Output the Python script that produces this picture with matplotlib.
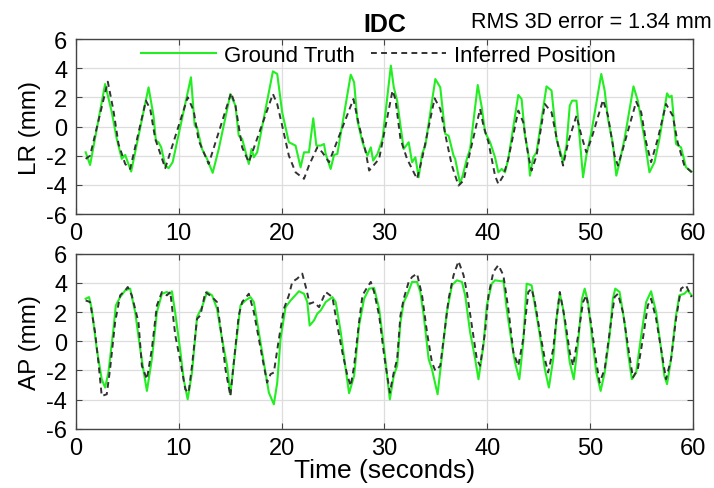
import matplotlib
matplotlib.use("Agg")
import matplotlib.pyplot as plt
import numpy as np

plt.rcParams['font.family'] = ['Liberation Sans', 'DejaVu Sans']
plt.rcParams['axes.unicode_minus'] = False

# LR, ground truth (s, mm)
lr_gt_t = [0.97, 1.40, 2.86, 3.51, 3.99, 4.48, 4.81, 5.06, 5.39, 7.08, 7.56, 7.79, 8.05, 8.31, 8.70, 9.03, 9.42,
           11.20, 11.56, 11.79, 12.27, 12.76, 13.31, 13.90, 15.03, 15.52, 15.84, 16.17, 16.82, 17.08, 17.31, 17.63,
           19.16, 19.58, 20.06, 20.71, 21.04, 21.36, 21.85, 22.18, 22.66, 23.08, 23.38, 23.80, 24.12, 24.29, 24.77,
           25.10, 25.42, 26.72, 27.05, 27.37, 27.86, 28.34, 28.67, 28.90, 29.32, 29.81, 30.62, 30.90, 31.23, 31.55,
           31.87, 32.35, 32.68, 33.00, 33.32, 33.65, 33.97, 34.94, 35.42, 35.90, 36.23, 36.71, 36.87, 37.35, 37.68,
           38.00, 38.32, 39.06, 39.45, 39.77, 40.26, 40.74, 41.06, 41.39, 41.71, 42.03, 43.00, 43.32, 43.65, 43.97,
           44.13, 44.45, 44.77, 45.74, 46.23, 46.71, 47.19, 47.35, 47.68, 48.00, 48.23, 48.65, 48.97, 49.29, 49.61,
           50.10, 51.06, 51.39, 51.71, 52.19, 52.52, 52.84, 53.32, 54.19, 54.61, 55.26, 55.74, 56.23, 56.71, 57.45,
           57.68, 57.90, 58.32, 58.81, 59.29, 59.84]
lr_gt = [-1.76, -2.63, 2.92, 0.98, -0.84, -2.21, -1.94, -2.44, -3.08, 2.69, 0.75, -0.96, -1.07, -1.42, -2.67, -2.85, -2.44,
         3.38, 0.07, -0.05, -1.53, -2.21, -3.17, -1.53, 2.24, 1.44, -0.62, -0.84, -2.56, -1.53, -2.10, -1.76,
         3.79, 3.61, 0.98, -1.07, -1.19, -1.30, -2.79, -1.76, -1.76, 0.57, -1.30, -1.30, -1.19, -1.87, -2.90,
         -1.94, -1.87, 3.56, 3.04, 0.41, -1.07, -1.99, -1.42, -2.33, -1.87, -0.84, 4.18, 2.71, 1.78, 0.07,
         -1.53, -1.07, -2.44, -2.10, -3.47, -1.87, -1.30, 3.26, 2.69, -0.50, -0.62, -1.99, -2.21, -3.93, -3.13,
         -2.21, -1.53, 2.85, 1.32, -0.39, -1.07, -2.10, -3.13, -2.90, -3.13, -2.21, 2.17, 1.89, -0.62, -1.87,
         -3.36, -2.10, -1.76, 2.76, 2.47, -0.84, -1.99, -2.44, -1.30, 1.44, 1.78, 1.78, -0.84, -3.47, -1.99,
         -0.39, 3.61, 2.47, 0.53, -1.19, -3.36, -2.44, -0.84, 2.76, 1.78, -0.84, -3.13, -2.44, -0.84, 2.28,
         2.01, 2.12, -1.19, -1.42, -2.79, -3.08]

# LR, inferred position
lr_inf_t = [0.97, 1.40, 3.12, 3.67, 4.16, 4.81, 5.29, 6.82, 7.24, 7.73, 8.70, 10.88, 11.46, 11.95, 12.92, 15.10,
            15.52, 16.17, 16.82, 19.16, 19.58, 20.06, 20.71, 21.36, 22.18, 22.66, 23.47, 23.96, 24.61, 26.98, 27.53,
            28.18, 28.51, 29.48, 30.78, 31.06, 31.55, 32.19, 33.16, 33.65, 34.87, 35.42, 36.06, 36.55, 37.19, 37.68,
            38.16, 39.29, 39.61, 40.10, 40.74, 41.06, 41.55, 42.03, 43.00, 43.48, 43.97, 44.29, 44.77, 45.58, 46.23,
            46.87, 47.35, 47.84, 48.65, 49.13, 49.61, 50.10, 51.23, 51.71, 52.35, 52.68, 53.16, 54.45, 54.94, 55.42,
            55.90, 56.55, 57.35, 58.00, 58.48, 59.13, 59.84]
lr_inf = [-2.21, -1.99, 3.08, 1.10, -1.19, -2.56, -2.90, 1.78, 1.21, -0.84, -2.85, 2.01, 1.10, -0.96, -2.56, 2.31,
          1.44, -1.42, -2.44, 2.24, 1.55, 0.07, -1.99, -3.13, -3.58, -2.67, -1.42, -1.76, -2.44, 1.89, 0.07,
          -1.76, -3.01, -2.21, 2.47, 1.89, -0.84, -2.21, -3.58, -2.21, 1.94, 1.21, -1.07, -2.67, -4.04, -3.70,
          -2.21, 1.21, 0.07, -1.07, -3.36, -3.93, -3.36, -2.21, 1.10, 0.30, -1.99, -3.01, -1.99, 1.55, 0.98,
          -1.30, -2.67, -1.07, 0.75, -0.62, -1.76, -0.84, 1.83, 0.75, -1.99, -2.67, -1.53, 1.71, 0.98, -1.07,
          -2.44, -0.84, 1.55, 0.75, -1.07, -2.67, -3.13]

# AP, ground truth
ap_gt_t = [0.97, 1.30, 1.56, 2.05, 2.53, 2.86, 3.18, 3.67, 3.90, 4.32, 4.81, 5.29, 5.78, 6.27, 6.59, 6.92, 7.40, 7.89,
           8.38, 8.86, 9.19, 9.35, 9.68, 10.16, 10.49, 10.88, 11.30, 11.79, 12.27, 12.76, 13.25, 13.73, 14.22, 14.71,
           15.03, 15.52, 16.01, 16.49, 16.98, 17.31, 17.63, 18.12, 18.44, 18.77, 19.25, 19.58, 19.90, 20.39, 20.88,
           21.69, 22.18, 22.50, 22.73, 23.15, 23.47, 23.80, 24.29, 24.94, 25.26, 25.75, 26.23, 26.56, 27.05, 27.53,
           28.02, 28.51, 28.99, 29.48, 29.97, 30.29, 30.52, 30.90, 31.23, 31.55, 31.87, 32.19, 32.68, 33.16, 33.48,
           33.81, 34.29, 34.61, 35.16, 35.58, 36.06, 36.55, 37.03, 37.52, 37.84, 38.32, 38.81, 39.13, 39.61, 39.94,
           40.42, 40.74, 41.39, 41.55, 41.87, 42.35, 42.68, 43.10, 43.48, 43.81, 44.29, 44.61, 45.10, 45.58, 45.97,
           46.39, 46.71, 47.03, 47.35, 47.68, 48.00, 48.39, 48.81, 49.19, 49.45, 49.77, 50.26, 50.58, 51.00, 51.39,
           51.87, 52.19, 52.42, 52.84, 53.32, 53.65, 54.03, 54.45, 54.94, 55.42, 55.90, 56.39, 56.87, 57.19, 57.45,
           57.84, 58.32, 58.65, 59.13, 59.45, 59.84]
ap_gt = [2.92, 3.03, 2.23, -0.53, -2.60, -3.17, -2.14, 0.85, 2.46, 3.03, 3.49, 3.61, 2.00, -0.53, -2.02, -3.40, -1.22, 2.00,
         3.26, 3.38, 3.26, 3.43, 1.89, -0.64, -2.60, -3.98, -2.14, 1.66, 2.34, 3.38, 3.15, 2.23, 0.16, -1.68,
         -3.63, -0.53, 2.46, 2.80, 3.03, 2.69, 1.31, -0.76, -2.14, -3.52, -4.32, -2.83, 0.16, 2.34, 2.80,
         3.43, 3.26, 2.69, 1.08, 1.43, 1.89, 2.11, 2.69, 3.03, 2.69, 0.62, -1.91, -3.56, -2.37, 1.08,
         2.92, 3.61, 3.66, 2.23, -0.53, -2.60, -3.98, -2.37, -1.68, 1.31, 2.69, 3.15, 4.07, 4.07, 3.38,
         1.77, -1.22, -1.91, -3.63, -0.99, 2.00, 3.84, 4.18, 4.07, 3.15, 0.62, -1.22, -2.60, -0.30, 2.46,
         3.95, 4.18, 4.11, 4.18, 2.23, -0.07, -1.45, -2.60, -0.07, 3.95, 3.84, 2.46, 0.39, -1.91, -3.17,
         -1.22, 1.54, 3.26, 2.23, 0.39, -1.45, -2.60, -0.07, 2.92, 3.61, 2.69, -0.30, -2.14, -3.40, -2.14,
         0.39, 2.92, 3.61, 3.38, 1.31, -0.76, -2.60, -2.14, 0.39, 2.69, 3.43, 2.00, -0.53, -2.37, -2.94,
         -1.22, 1.77, 3.15, 3.26, 3.49, 3.15]

# AP, inferred position
ap_inf_t = [0.97, 1.40, 1.88, 2.21, 2.53, 3.02, 3.34, 3.83, 4.32, 4.81, 5.06, 5.45, 6.10, 6.43, 6.92, 7.40, 7.89, 8.38,
            8.86, 9.19, 9.68, 10.16, 10.65, 10.97, 11.30, 11.79, 12.11, 12.60, 13.25, 13.73, 14.22, 14.55, 15.03,
            15.36, 15.84, 16.17, 16.82, 17.31, 17.79, 18.28, 18.60, 18.93, 19.25, 19.74, 20.23, 20.71, 21.04, 21.53,
            22.01, 22.40, 22.73, 23.15, 23.64, 24.29, 24.94, 25.42, 25.91, 26.40, 26.72, 27.05, 27.53, 27.86, 28.34,
            28.67, 28.99, 29.48, 29.97, 30.52, 30.90, 31.23, 31.55, 31.87, 32.35, 32.68, 33.16, 33.65, 34.13, 34.61,
            34.94, 35.42, 35.74, 36.23, 36.71, 37.19, 37.68, 38.00, 38.48, 38.97, 39.29, 39.77, 40.10, 40.58, 41.06,
            41.55, 42.03, 42.52, 43.00, 43.48, 43.97, 44.29, 44.61, 45.10, 45.58, 45.90, 46.39, 46.71, 47.03, 47.52,
            48.00, 48.32, 48.81, 49.29, 49.61, 50.10, 50.58, 50.90, 51.39, 51.87, 52.35, 52.68, 53.16, 53.65, 54.13,
            54.61, 55.10, 55.58, 55.90, 56.39, 56.87, 57.35, 57.84, 58.32, 58.81, 59.29, 59.84]
ap_inf = [2.80, 2.69, 0.62, -1.45, -3.75, -3.63, -1.91, 1.31, 3.15, 3.49, 3.72, 3.15, 1.31, -1.68, -2.60, -0.53, 2.46, 3.38,
          3.15, 3.38, 0.39, -1.33, -3.29, -3.52, -1.68, 1.54, 1.77, 3.38, 3.03, 2.69, 0.16, -1.91, -3.75,
          -1.45, 1.77, 2.69, 3.26, 2.00, 0.16, -1.68, -2.83, -2.25, -2.14, 0.16, 2.23, 3.15, 4.07, 4.30,
          4.64, 3.61, 2.57, 2.69, 2.34, 3.38, 3.03, 1.08, -0.76, -2.37, -3.06, -1.68, 1.31, 3.15, 3.72,
          4.07, 3.38, 1.77, -0.99, -3.52, -2.14, -1.22, 1.77, 2.92, 4.07, 4.41, 4.64, 3.15, 0.62, -1.45,
          -2.02, -1.68, 0.16, 2.92, 4.53, 5.49, 4.53, 3.38, 1.08, -1.22, -1.68, 0.62, 3.15, 4.76, 5.22,
          4.53, 2.23, -0.76, -1.68, 0.16, 3.38, 3.61, 2.69, 0.62, -1.22, -2.14, -0.53, 1.54, 3.38, 1.54,
          -0.76, -1.68, 0.39, 2.69, 3.15, 1.08, -1.45, -2.83, -1.91, 0.62, 3.03, 3.26, 2.00, -0.30, -2.48,
          -1.91, 0.16, 2.46, 2.92, 1.54, -0.53, -2.60, -1.22, 1.54, 3.61, 3.84, 3.03]

xticks = [0, 10, 20, 30, 40, 50, 60]
yticks = [-6, -4, -2, 0, 2, 4, 6]

fig = plt.figure(figsize=(7.14, 4.89), dpi=100)
ax1 = fig.add_axes([0.106, 0.560, 0.865, 0.358])
ax2 = fig.add_axes([0.106, 0.121, 0.865, 0.358])

green = '#22ee22'
for ax, tg, g, ti, inf, lab in [(ax1, lr_gt_t, lr_gt, lr_inf_t, lr_inf, 'LR (mm)'),
                                 (ax2, ap_gt_t, ap_gt, ap_inf_t, ap_inf, 'AP (mm)')]:
    ax.plot(tg, g, color=green, lw=1.5, label='Ground Truth')
    ax.plot(ti, inf, color='#333333', lw=1.4, ls=(0, (3, 2.2)), label='Inferred Position')
    ax.set_xlim(0, 60)
    ax.set_ylim(-6, 6)
    ax.set_xticks(xticks)
    ax.set_yticks(yticks)
    ax.grid(True, color='#dddddd', lw=0.9)
    ax.set_axisbelow(True)
    ax.tick_params(direction='in', labelsize=17, length=4, color='#444444', pad=6,
                   top=True, right=True)
    for s in ax.spines.values():
        s.set_color('#444444')
        s.set_linewidth(1.0)
    ax.set_ylabel(lab, fontsize=17.5, labelpad=4)

ax2.set_xlabel('Time (seconds)', fontsize=19, labelpad=-1)
ax1.legend(loc='center', bbox_to_anchor=(0.49, 0.905), ncol=2, frameon=False, fontsize=16,
           handlelength=3.4, columnspacing=0.7, handletextpad=0.35, borderpad=0, borderaxespad=0)

fig.text(385 / 714, 1 - 25 / 489, 'IDC', ha='center', va='center', fontsize=18, fontweight='bold')
fig.text(712 / 714, 1 - 22 / 489, 'RMS 3D error = 1.34 mm', ha='right', va='center', fontsize=15.5)

fig.savefig('out.png', dpi=100)
